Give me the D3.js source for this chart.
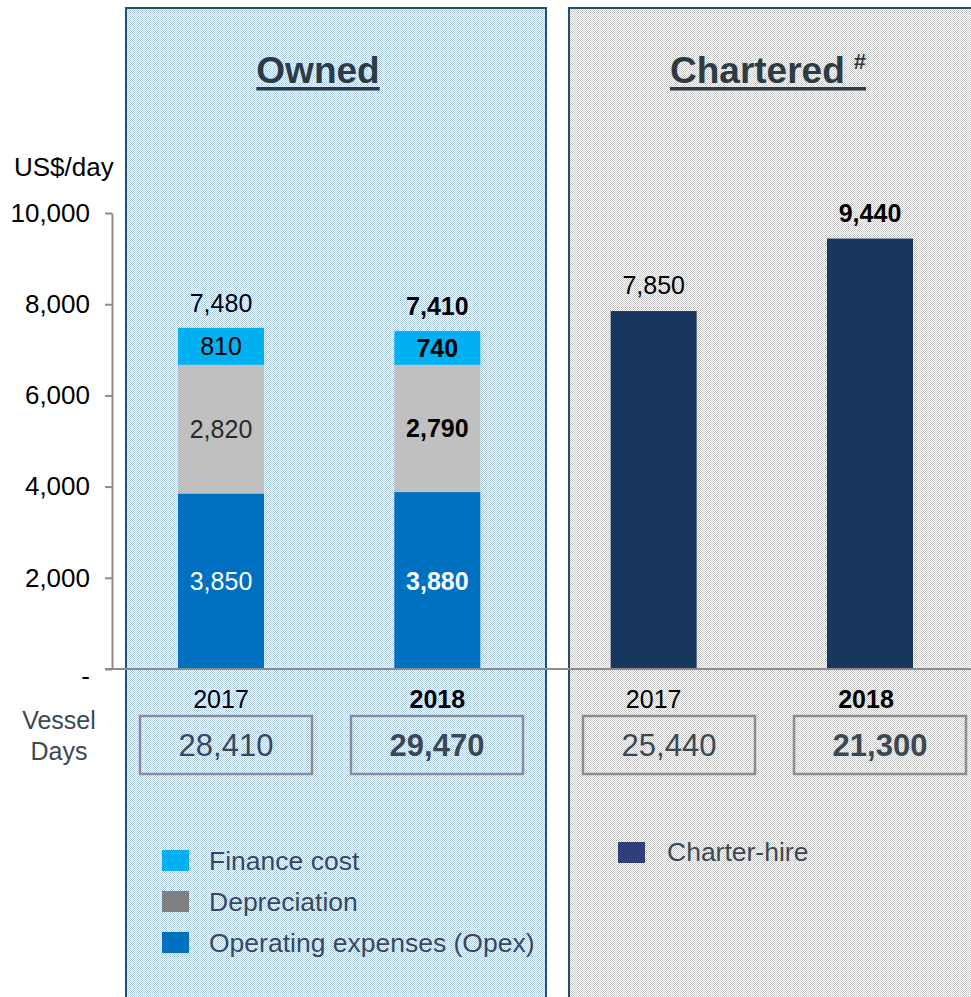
<!DOCTYPE html>
<html>
<head>
<meta charset="utf-8">
<script src="https://cdn.jsdelivr.net/npm/d3@7"></script>
<style>
  body { margin: 0; background: #fff; }
  svg { display: block; font-family: "Liberation Sans", Arial, sans-serif; }
</style>
</head>
<body>
<div id="chart"></div>
<script>
// data
const slots = ["Owned 2017", "Owned 2018", "Chartered 2017", "Chartered 2018"];
const years = ["2017", "2018", "2017", "2018"];
const opex = [3850, 3880];
const depreciation = [2820, 2790];
const financeCost = [810, 740];
const ownedTotal = [7480, 7410];
const charterHire = [7850, 9440];
const vesselDays = [28410, 29470, 25440, 21300];
const yTicks = [0, 2000, 4000, 6000, 8000, 10000];

const W = 971, H = 997;
const fmt = d3.format(",");
const textDark = "#3b4852";

const svg = d3.select("#chart").append("svg")
    .attr("width", W)
    .attr("height", H);

// dotted panel fills
const defs = svg.append("defs");
function dots(id, color) {
    const p = defs.append("pattern")
        .attr("id", id)
        .attr("patternUnits", "userSpaceOnUse")
        .attr("width", 2).attr("height", 2);
    p.append("rect").attr("width", 2).attr("height", 2).attr("fill", "#fff");
    p.append("rect").attr("x", 0).attr("y", 0).attr("width", 1).attr("height", 1).attr("fill", color);
    p.append("rect").attr("x", 1).attr("y", 1).attr("width", 1).attr("height", 1).attr("fill", color);
}
dots("blueDots", "#b0cceb");
dots("grayDots", "#c8c8c8");

// panels
const panelLeft = [126, 569];
svg.append("rect")
    .attr("x", panelLeft[0]).attr("y", 8).attr("width", 420).attr("height", H + 10)
    .attr("fill", "url(#blueDots)")
    .attr("stroke", "#1f4e79").attr("stroke-width", 2);
svg.append("rect")
    .attr("x", panelLeft[1]).attr("y", 8).attr("width", 420).attr("height", H + 10)
    .attr("fill", "url(#grayDots)")
    .attr("stroke", "#1f4e79").attr("stroke-width", 2);

// panel titles
function title(x, txt, sup) {
    const t = svg.append("text")
        .attr("x", x).attr("y", 83)
        .attr("text-anchor", "middle")
        .attr("font-size", 37).attr("font-weight", "bold")
        .attr("fill", "#2d3b45")
        .text(txt);
    if (sup) {
        t.append("tspan").attr("dx", 9).attr("dy", -14).attr("font-size", 22).text(sup);
    }
    const bb = t.node().getBBox();
    svg.append("rect")
        .attr("x", bb.x).attr("y", 87)
        .attr("width", bb.width).attr("height", 3.5)
        .attr("fill", "#2d3b45");
}
title(318, "Owned");
title(768, "Chartered", "#");

// scales
const y = d3.scaleLinear().domain([0, 10000]).range([669, 213]);
const x = d3.scalePoint().domain(slots).range([221, 870]);
const barW = 86;

// y axis
svg.append("text")
    .attr("x", 14).attr("y", 176)
    .attr("font-size", 26).attr("fill", "#000")
    .text("US$/day");

const axis = svg.append("g")
    .attr("transform", "translate(112,0)")
    .call(d3.axisLeft(y)
        .tickValues(yTicks)
        .tickSize(7)
        .tickSizeOuter(0)
        .tickPadding(15)
        .tickFormat(d => d === 0 ? "-" : fmt(d)));
axis.selectAll("path, line").attr("stroke", "#8c8c8c").attr("stroke-width", 2);
axis.selectAll("text")
    .attr("font-size", 26)
    .attr("font-family", "Liberation Sans, Arial, sans-serif")
    .attr("fill", "#000");
axis.selectAll(".tick").filter(d => d === 0).select("text").attr("dy", "0.6em");

// stacked owned bars
const stackKeys = [
    { name: "opex", values: opex, color: "#0070c0", label: "#fff" },
    { name: "depreciation", values: depreciation, color: "#c0c0c0", label: "#2a2a2a" },
    { name: "finance", values: financeCost, color: "#00b0f0", label: "#000" }
];
const ownedSlots = slots.slice(0, 2);
ownedSlots.forEach((s, i) => {
    let base = 0;
    const bold = i === 1;
    stackKeys.forEach(k => {
        const v = k.values[i];
        svg.append("rect")
            .attr("x", x(s) - barW / 2)
            .attr("y", y(base + v))
            .attr("width", barW)
            .attr("height", y(base) - y(base + v))
            .attr("fill", k.color);
        svg.append("text")
            .attr("x", x(s))
            .attr("y", (y(base) + y(base + v)) / 2)
            .attr("dy", "0.36em")
            .attr("text-anchor", "middle")
            .attr("font-size", 25)
            .attr("font-weight", bold ? "bold" : "normal")
            .attr("fill", bold && k.name === "depreciation" ? "#000" : k.label)
            .text(fmt(v));
        base += v;
    });
    svg.append("text")
        .attr("x", x(s))
        .attr("y", y(ownedTotal[i]) - 16)
        .attr("text-anchor", "middle")
        .attr("font-size", 25)
        .attr("font-weight", bold ? "bold" : "normal")
        .attr("fill", "#000")
        .text(fmt(ownedTotal[i]));
});

// chartered bars
const charterSlots = slots.slice(2);
charterSlots.forEach((s, i) => {
    const bold = i === 1;
    svg.append("rect")
        .attr("x", x(s) - barW / 2)
        .attr("y", y(charterHire[i]))
        .attr("width", barW)
        .attr("height", y(0) - y(charterHire[i]))
        .attr("fill", "#17375e");
    svg.append("text")
        .attr("x", x(s))
        .attr("y", y(charterHire[i]) - 17)
        .attr("text-anchor", "middle")
        .attr("font-size", 25)
        .attr("font-weight", bold ? "bold" : "normal")
        .attr("fill", "#000")
        .text(fmt(charterHire[i]));
});

// baseline
svg.append("line")
    .attr("x1", 105).attr("x2", W)
    .attr("y1", y(0)).attr("y2", y(0))
    .attr("stroke", "#8c8c8c").attr("stroke-width", 2);

// year labels and vessel days boxes (boxes sit at fixed offsets inside each panel)
slots.forEach((s, i) => {
    const bold = i % 2 === 1;
    const boxC = panelLeft[Math.floor(i / 2)] + 100 + (i % 2) * 211;
    svg.append("text")
        .attr("x", x(s) + (i === 3 ? -4 : 0)).attr("y", 708)
        .attr("text-anchor", "middle")
        .attr("font-size", 25)
        .attr("font-weight", bold ? "bold" : "normal")
        .attr("fill", "#000")
        .text(years[i]);
    svg.append("rect")
        .attr("x", boxC - 86).attr("y", 716)
        .attr("width", 172).attr("height", 58)
        .attr("fill", "none")
        .attr("stroke", "#8c8c8c").attr("stroke-width", 2.5);
    svg.append("text")
        .attr("x", boxC).attr("y", 756)
        .attr("text-anchor", "middle")
        .attr("font-size", 31)
        .attr("font-weight", bold ? "bold" : "normal")
        .attr("fill", textDark)
        .text(fmt(vesselDays[i]));
});

svg.append("text")
    .attr("x", 59).attr("y", 729)
    .attr("text-anchor", "middle")
    .attr("font-size", 25).attr("fill", textDark)
    .text("Vessel");
svg.append("text")
    .attr("x", 59).attr("y", 760)
    .attr("text-anchor", "middle")
    .attr("font-size", 25).attr("fill", textDark)
    .text("Days");

// legends
const ownedLegend = [
    { label: "Finance cost", color: "#00b0f0", y: 850 },
    { label: "Depreciation", color: "#808080", y: 891 },
    { label: "Operating expenses (Opex)", color: "#0070c0", y: 932 }
];
ownedLegend.forEach(d => {
    svg.append("rect")
        .attr("x", 162).attr("y", d.y)
        .attr("width", 27).attr("height", 21)
        .attr("fill", d.color);
    svg.append("text")
        .attr("x", 209).attr("y", d.y + 20)
        .attr("font-size", 26.5).attr("fill", textDark)
        .text(d.label);
});

svg.append("rect")
    .attr("x", 618).attr("y", 842)
    .attr("width", 27).attr("height", 21)
    .attr("fill", "#2e4079");
svg.append("text")
    .attr("x", 667).attr("y", 861)
    .attr("font-size", 26.5).attr("fill", textDark)
    .text("Charter-hire");
</script>
</body>
</html>
